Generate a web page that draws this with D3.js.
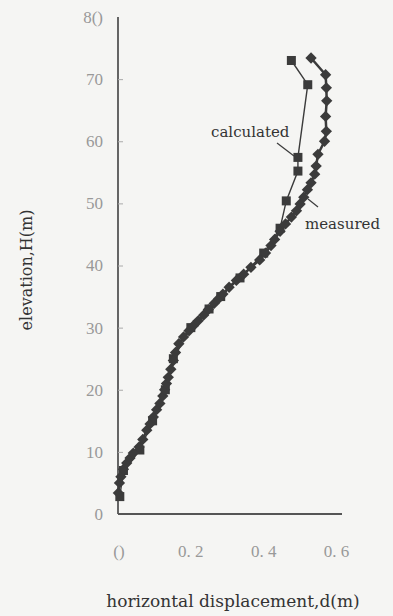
<!DOCTYPE html>
<html>
<head>
<meta charset="utf-8">
<script src="https://cdn.jsdelivr.net/npm/d3@7"></script>
<style>
  html, body { margin: 0; padding: 0; background: #f5f5f3; }
  svg { display: block; }
  .tick-label { font-family: "Liberation Serif", "DejaVu Serif", serif; fill: #999; font-size: 17px; }
  .title { font-family: "DejaVu Serif", "Liberation Serif", serif; fill: #333; }
</style>
</head>
<body>
<div id="chart"></div>
<script>
// measured (diamonds), elevation H (m) vs displacement d (m)
const measuredH = [3.4, 5.0, 6.0, 7.2, 8.2, 9.0, 9.8, 10.8, 12.0, 13.5, 14.5, 15.6, 16.8, 17.8, 19.0, 20.0, 21.0, 22.0, 23.3, 24.7, 26.0, 27.4, 28.5, 29.5, 30.3, 31.1, 32.0, 32.9, 33.9, 34.7, 35.4, 36.5, 37.6, 38.6, 39.7, 40.9, 42.0, 43.2, 44.2, 45.5, 46.7, 47.8, 48.8, 49.9, 51.0, 52.2, 53.3, 54.7, 56.0, 57.9, 60.0, 61.6, 64.0, 66.5, 68.6, 70.7, 73.4];
const measuredD = [0.001, 0.004, 0.008, 0.015, 0.024, 0.033, 0.042, 0.058, 0.068, 0.079, 0.088, 0.097, 0.106, 0.115, 0.123, 0.128, 0.133, 0.138, 0.145, 0.152, 0.158, 0.167, 0.180, 0.195, 0.207, 0.220, 0.235, 0.248, 0.264, 0.277, 0.288, 0.305, 0.325, 0.345, 0.365, 0.389, 0.405, 0.420, 0.430, 0.445, 0.460, 0.476, 0.490, 0.500, 0.510, 0.520, 0.530, 0.540, 0.544, 0.549, 0.567, 0.572, 0.570, 0.573, 0.572, 0.570, 0.530];

// calculated (squares)
const calcH = [2.8, 7.0, 10.3, 15, 20, 25, 30, 33, 35, 38, 42, 46, 50.4, 55.2, 57.4, 69.1, 73.0];
const calcD = [0.005, 0.015, 0.060, 0.095, 0.130, 0.152, 0.200, 0.250, 0.282, 0.335, 0.400, 0.445, 0.462, 0.494, 0.494, 0.521, 0.476];

const xTicks = [0, 0.2, 0.4, 0.6];
const xTickLabels = ["()", "0. 2", "0. 4", "0. 6"];
const yTicks = [0, 10, 20, 30, 40, 50, 60, 70, 80];

const W = 393, H = 616;
const svg = d3.select("#chart").append("svg")
    .attr("width", W).attr("height", H);

const x = d3.scaleLinear().domain([0, 0.615]).range([118, 342]);
const y = d3.scaleLinear().domain([0, 80]).range([514, 17]);

const ink = "#3b3b3b";

// axes
const yAxis = svg.append("g")
    .attr("transform", `translate(${x(0)},0)`)
    .call(d3.axisRight(y).tickValues(yTicks.slice(1, -1)).tickSize(5).tickFormat(""));
yAxis.select(".domain").attr("stroke", "#555").attr("stroke-width", 1.8).attr("d", `M0,${y(0)}V${y(80)}`);
yAxis.selectAll(".tick line").attr("stroke", "#aaa");

svg.append("line")
    .attr("x1", x(0)).attr("x2", 342)
    .attr("y1", y(0)).attr("y2", y(0))
    .attr("stroke", "#555").attr("stroke-width", 1.8);

svg.selectAll(".ylab").data(yTicks).enter().append("text")
    .attr("class", "tick-label")
    .attr("x", 103).attr("y", d => y(d))
    .attr("dy", "0.35em")
    .attr("text-anchor", "end")
    .text(d => d === 80 ? "8()" : d);

svg.selectAll(".xlab").data(xTicks).enter().append("text")
    .attr("class", "tick-label")
    .attr("x", (d, i) => x(d) + (i === 0 ? 1 : 0)).attr("y", 557)
    .attr("text-anchor", "middle")
    .text((d, i) => xTickLabels[i]);

svg.append("text").attr("class", "title")
    .attr("x", 233).attr("y", 607)
    .attr("text-anchor", "middle")
    .style("font-size", "17px")
    .text("horizontal displacement,d(m)");

svg.append("text").attr("class", "title")
    .attr("transform", `translate(32,${270}) rotate(-90)`)
    .attr("text-anchor", "middle")
    .style("font-size", "16px")
    .text("elevation,H(m)");

// series
const measured = measuredH.map((h, i) => ({ h, d: measuredD[i] }));
const calc = calcH.map((h, i) => ({ h, d: calcD[i] }));

const line = d3.line().x(p => x(p.d)).y(p => y(p.h));

svg.append("path").datum(calc)
    .attr("d", line).attr("fill", "none")
    .attr("stroke", ink).attr("stroke-width", 1.4);

svg.selectAll(".sq").data(calc).enter().append("rect")
    .attr("x", p => x(p.d) - 4.5).attr("y", p => y(p.h) - 4.5)
    .attr("width", 9).attr("height", 9)
    .attr("fill", ink);

svg.append("path").datum(measured)
    .attr("d", line).attr("fill", "none")
    .attr("stroke", ink).attr("stroke-width", 2.5);

svg.selectAll(".dm").data(measured).enter().append("rect")
    .attr("x", -4).attr("y", -4)
    .attr("width", 8).attr("height", 8)
    .attr("transform", p => `translate(${x(p.d)},${y(p.h)}) rotate(45)`)
    .attr("fill", ink);

// labels with leader lines
svg.append("text").attr("class", "title")
    .attr("x", 211).attr("y", 137)
    .style("font-size", "15px")
    .text("calculated");
svg.append("line")
    .attr("x1", 277).attr("y1", 143).attr("x2", 294).attr("y2", 156)
    .attr("stroke", ink).attr("stroke-width", 1.2);

svg.append("text").attr("class", "title")
    .attr("x", 305).attr("y", 229)
    .style("font-size", "15px")
    .text("measured");
svg.append("line")
    .attr("x1", 308).attr("y1", 199).attr("x2", 318).attr("y2", 207)
    .attr("stroke", ink).attr("stroke-width", 1.2);
</script>
</body>
</html>
